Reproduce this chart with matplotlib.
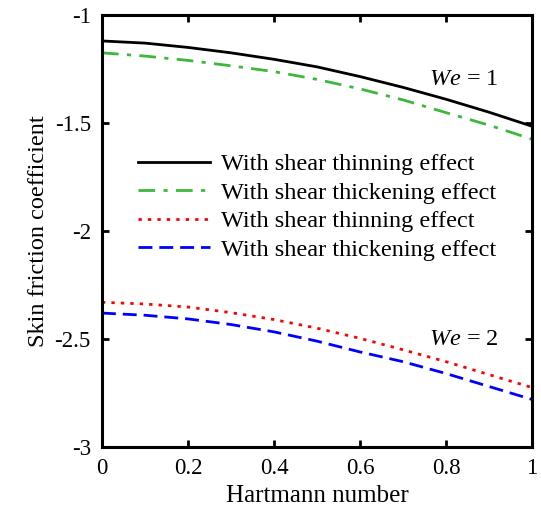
import matplotlib
matplotlib.use("Agg")
import matplotlib.pyplot as plt

plt.rcParams['font.family'] = ['Liberation Serif', 'DejaVu Serif']
plt.rcParams['mathtext.fontset'] = 'custom'
plt.rcParams['mathtext.it'] = 'Liberation Serif:italic'
plt.rcParams['mathtext.rm'] = 'Liberation Serif'

# Hartmann number
M = [0.0, 0.1, 0.2, 0.3, 0.4, 0.5, 0.6, 0.7, 0.8, 0.9, 1.0]
# We = 1
thin_we1 = [-1.12, -1.13, -1.15, -1.175, -1.205, -1.24, -1.285, -1.335, -1.39, -1.45, -1.515]
thick_we1 = [-1.175, -1.19, -1.21, -1.235, -1.262, -1.298, -1.342, -1.393, -1.452, -1.51, -1.575]
# We = 2
thin_we2 = [-2.33, -2.338, -2.352, -2.378, -2.41, -2.45, -2.497, -2.55, -2.605, -2.665, -2.725]
thick_we2 = [-2.38, -2.39, -2.407, -2.433, -2.467, -2.51, -2.56, -2.605, -2.66, -2.72, -2.78]

xticks = [0, 0.2, 0.4, 0.6, 0.8, 1]
xlabels = ['0', '0.2', '0.4', '0.6', '0.8', '1']
yticks = [-3, -2.5, -2, -1.5, -1]
ylabels = ['-3', '-2.5', '-2', '-1.5', '-1']

fig = plt.figure(figsize=(5.41, 5.13), dpi=100)
ax = fig.add_axes([0.1885, 0.1287, 0.795, 0.842])

ax.plot(M, thin_we1, color='black', lw=2, label='With shear thinning effect')
ax.plot(M, thick_we1, color='#3cb83c', lw=2, dashes=(6, 3, 1.5, 3), label='With shear thickening effect')
ax.plot(M, thin_we2, color='red', lw=2, dashes=(1.2, 2.2), label='With shear thinning effect')
ax.plot(M, thick_we2, color='blue', lw=2, dashes=(5, 2.5), label='With shear thickening effect')

ax.set_xlim(0, 1)
ax.set_ylim(-3, -1)
ax.set_xticks(xticks)
ax.set_xticklabels(xlabels)
ax.set_yticks(yticks)
ax.set_yticklabels(ylabels)
ax.tick_params(direction='in', top=True, right=True, length=5, width=2, labelsize=16.5, pad=8)
for s in ax.spines.values():
    s.set_linewidth(2.2)

ax.set_xlabel('Hartmann number', fontsize=18, labelpad=4)
ax.set_ylabel('Skin friction coefficient', fontsize=17.5, labelpad=4)

ax.text(0.76, 0.85, r'$We$ = 1', transform=ax.transAxes, fontsize=17.5, va='center')
ax.text(0.76, 0.248, r'$We$ = 2', transform=ax.transAxes, fontsize=17.5, va='center')

ax.legend(loc='upper left', bbox_to_anchor=(0.084, 0.68), frameon=False, fontsize=17.5,
          handlelength=2.95, handletextpad=0.45, labelspacing=0.27, borderpad=0, borderaxespad=0)

fig.savefig('out.png', dpi=100)
